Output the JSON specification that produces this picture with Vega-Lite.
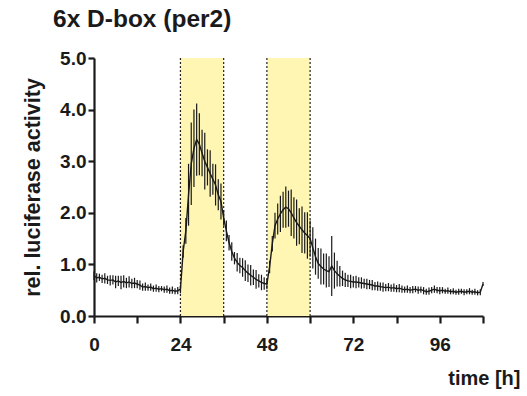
{
  "$schema": "https://vega.github.io/schema/vega-lite/v6.json",
  "width": 389,
  "height": 258,
  "autosize": "none",
  "padding": {"left": 94, "top": 58, "right": 44, "bottom": 80},
  "background": "white",
  "config": {
    "view": {"stroke": null},
    "font": "Liberation Sans"
  },
  "title": {
    "text": "6x D-box (per2)",
    "anchor": "start",
    "frame": "group",
    "fontSize": 24.5,
    "fontWeight": "bold",
    "font": "Liberation Sans",
    "color": "#1a1a1a",
    "dx": -41,
    "offset": 17
  },
  "datasets": {
    "bands": [
      {"start": 24, "end": 36, "lo": 0, "hi": 5},
      {"start": 48, "end": 60, "lo": 0, "hi": 5}
    ],
    "edges": [
      {"t": 24}, {"t": 36}, {"t": 48}, {"t": 60}
    ],
    "series": [
      {"t": 0, "m": 0.78, "e": 0.08},
      {"t": 0.75, "m": 0.74, "e": 0.09},
      {"t": 1.5, "m": 0.75, "e": 0.07},
      {"t": 2.25, "m": 0.72, "e": 0.08},
      {"t": 3, "m": 0.73, "e": 0.1},
      {"t": 3.75, "m": 0.7, "e": 0.08},
      {"t": 4.5, "m": 0.69, "e": 0.1},
      {"t": 5.25, "m": 0.7, "e": 0.09},
      {"t": 6, "m": 0.66, "e": 0.12},
      {"t": 6.75, "m": 0.68, "e": 0.1},
      {"t": 7.5, "m": 0.65, "e": 0.13},
      {"t": 8.25, "m": 0.67, "e": 0.12},
      {"t": 9, "m": 0.64, "e": 0.1},
      {"t": 9.75, "m": 0.66, "e": 0.11},
      {"t": 10.5, "m": 0.63, "e": 0.09},
      {"t": 11.25, "m": 0.64, "e": 0.1},
      {"t": 12, "m": 0.62, "e": 0.08},
      {"t": 12.75, "m": 0.6, "e": 0.09},
      {"t": 13.5, "m": 0.56, "e": 0.07},
      {"t": 14.25, "m": 0.57, "e": 0.08},
      {"t": 15, "m": 0.55, "e": 0.06},
      {"t": 15.75, "m": 0.56, "e": 0.07},
      {"t": 16.5, "m": 0.53, "e": 0.06},
      {"t": 17.25, "m": 0.54, "e": 0.07},
      {"t": 18, "m": 0.52, "e": 0.06},
      {"t": 18.75, "m": 0.53, "e": 0.05},
      {"t": 19.5, "m": 0.51, "e": 0.06},
      {"t": 20.25, "m": 0.52, "e": 0.07},
      {"t": 21, "m": 0.49, "e": 0.06},
      {"t": 21.75, "m": 0.5, "e": 0.07},
      {"t": 22.5, "m": 0.48, "e": 0.06},
      {"t": 23.25, "m": 0.49, "e": 0.07},
      {"t": 24, "m": 0.52, "e": 0.08},
      {"t": 24.75, "m": 1.25, "e": 0.12},
      {"t": 25.5, "m": 1.65, "e": 0.25},
      {"t": 26.25, "m": 2.35, "e": 0.6},
      {"t": 27, "m": 2.95, "e": 0.8},
      {"t": 27.75, "m": 3.25, "e": 0.75},
      {"t": 28.5, "m": 3.42, "e": 0.7},
      {"t": 29.25, "m": 3.33, "e": 0.6},
      {"t": 30, "m": 3.16, "e": 0.45},
      {"t": 30.75, "m": 3.0, "e": 0.55},
      {"t": 31.5, "m": 2.88, "e": 0.35},
      {"t": 32.25, "m": 2.76, "e": 0.45},
      {"t": 33, "m": 2.65, "e": 0.3},
      {"t": 33.75, "m": 2.54, "e": 0.4},
      {"t": 34.5, "m": 2.35, "e": 0.3},
      {"t": 35.25, "m": 2.22, "e": 0.35},
      {"t": 36, "m": 1.9, "e": 0.15},
      {"t": 36.75, "m": 1.65, "e": 0.2},
      {"t": 37.5, "m": 1.42, "e": 0.15},
      {"t": 38.25, "m": 1.25, "e": 0.18},
      {"t": 39, "m": 1.12, "e": 0.12},
      {"t": 39.75, "m": 1.04, "e": 0.18},
      {"t": 40.5, "m": 0.98, "e": 0.15},
      {"t": 41.25, "m": 0.94, "e": 0.18},
      {"t": 42, "m": 0.88, "e": 0.2},
      {"t": 42.75, "m": 0.83, "e": 0.17},
      {"t": 43.5, "m": 0.79, "e": 0.2},
      {"t": 44.25, "m": 0.75, "e": 0.15},
      {"t": 45, "m": 0.71, "e": 0.18},
      {"t": 45.75, "m": 0.68, "e": 0.13},
      {"t": 46.5, "m": 0.65, "e": 0.15},
      {"t": 47.25, "m": 0.63, "e": 0.12},
      {"t": 48, "m": 0.62, "e": 0.1},
      {"t": 48.75, "m": 0.95, "e": 0.12},
      {"t": 49.5, "m": 1.4, "e": 0.15},
      {"t": 50.25, "m": 1.75, "e": 0.25},
      {"t": 51, "m": 1.88, "e": 0.3},
      {"t": 51.75, "m": 1.98, "e": 0.35},
      {"t": 52.5, "m": 2.06, "e": 0.35},
      {"t": 53.25, "m": 2.11, "e": 0.4},
      {"t": 54, "m": 2.08, "e": 0.35},
      {"t": 54.75, "m": 2.0, "e": 0.45},
      {"t": 55.5, "m": 1.9, "e": 0.4},
      {"t": 56.25, "m": 1.81, "e": 0.45},
      {"t": 57, "m": 1.74, "e": 0.35},
      {"t": 57.75, "m": 1.67, "e": 0.45},
      {"t": 58.5, "m": 1.61, "e": 0.4},
      {"t": 59.25, "m": 1.56, "e": 0.45},
      {"t": 60, "m": 1.5, "e": 0.35},
      {"t": 60.75, "m": 1.32, "e": 0.4},
      {"t": 61.5, "m": 1.15, "e": 0.35},
      {"t": 62.25, "m": 1.02, "e": 0.3},
      {"t": 63, "m": 0.96, "e": 0.35},
      {"t": 63.75, "m": 0.91, "e": 0.3},
      {"t": 64.5, "m": 0.88, "e": 0.33},
      {"t": 65.25, "m": 0.86, "e": 0.3},
      {"t": 66, "m": 0.97, "e": 0.58},
      {"t": 66.75, "m": 0.88, "e": 0.35},
      {"t": 67.5, "m": 0.82, "e": 0.25},
      {"t": 68.25, "m": 0.77, "e": 0.2},
      {"t": 69, "m": 0.73, "e": 0.15},
      {"t": 69.75, "m": 0.7, "e": 0.14},
      {"t": 70.5, "m": 0.68, "e": 0.12},
      {"t": 71.25, "m": 0.67, "e": 0.13},
      {"t": 72, "m": 0.66, "e": 0.11},
      {"t": 72.75, "m": 0.66, "e": 0.12},
      {"t": 73.5, "m": 0.65, "e": 0.1},
      {"t": 74.25, "m": 0.64, "e": 0.11},
      {"t": 75, "m": 0.63, "e": 0.09},
      {"t": 75.75, "m": 0.62, "e": 0.1},
      {"t": 76.5, "m": 0.61, "e": 0.09},
      {"t": 77.25, "m": 0.6, "e": 0.1},
      {"t": 78, "m": 0.58, "e": 0.08},
      {"t": 78.75, "m": 0.58, "e": 0.09},
      {"t": 79.5, "m": 0.57, "e": 0.08},
      {"t": 80.25, "m": 0.56, "e": 0.09},
      {"t": 81, "m": 0.55, "e": 0.07},
      {"t": 81.75, "m": 0.56, "e": 0.08},
      {"t": 82.5, "m": 0.54, "e": 0.07},
      {"t": 83.25, "m": 0.55, "e": 0.08},
      {"t": 84, "m": 0.53, "e": 0.07},
      {"t": 84.75, "m": 0.54, "e": 0.08},
      {"t": 85.5, "m": 0.52, "e": 0.07},
      {"t": 86.25, "m": 0.51, "e": 0.06},
      {"t": 87, "m": 0.52, "e": 0.07},
      {"t": 87.75, "m": 0.5, "e": 0.06},
      {"t": 88.5, "m": 0.51, "e": 0.07},
      {"t": 89.25, "m": 0.52, "e": 0.06},
      {"t": 90, "m": 0.5, "e": 0.07},
      {"t": 90.75, "m": 0.51, "e": 0.06},
      {"t": 91.5, "m": 0.49, "e": 0.07},
      {"t": 92.25, "m": 0.47, "e": 0.06},
      {"t": 93, "m": 0.48, "e": 0.07},
      {"t": 93.75, "m": 0.5, "e": 0.06},
      {"t": 94.5, "m": 0.52, "e": 0.07},
      {"t": 95.25, "m": 0.5, "e": 0.06},
      {"t": 96, "m": 0.49, "e": 0.07},
      {"t": 96.75, "m": 0.5, "e": 0.06},
      {"t": 97.5, "m": 0.48, "e": 0.05},
      {"t": 98.25, "m": 0.49, "e": 0.06},
      {"t": 99, "m": 0.47, "e": 0.05},
      {"t": 99.75, "m": 0.48, "e": 0.06},
      {"t": 100.5, "m": 0.46, "e": 0.05},
      {"t": 101.25, "m": 0.47, "e": 0.06},
      {"t": 102, "m": 0.48, "e": 0.05},
      {"t": 102.75, "m": 0.46, "e": 0.06},
      {"t": 103.5, "m": 0.47, "e": 0.05},
      {"t": 104.25, "m": 0.48, "e": 0.06},
      {"t": 105, "m": 0.46, "e": 0.05},
      {"t": 105.75, "m": 0.47, "e": 0.06},
      {"t": 106.5, "m": 0.45, "e": 0.05},
      {"t": 107.25, "m": 0.46, "e": 0.06},
      {"t": 108, "m": 0.62, "e": 0.04}
    ]
  },
  "layer": [
    {
      "data": {"name": "bands"},
      "mark": {"type": "rect", "color": "#fff6b3"},
      "encoding": {
        "x": {"field": "start", "type": "quantitative", "title": "time [h]", "scale": {"domain": [0, 108], "nice": false},
          "axis": {
            "values": [0, 12, 24, 36, 48, 60, 72, 84, 96, 108],
            "labelExpr": "datum.value % 24 == 0 ? datum.label : ''",
            "domainColor": "#1a1a1a", "domainWidth": 2.2,
            "tickColor": "#1a1a1a", "tickWidth": 2.2, "tickSize": 7,
            "labelFont": "Liberation Sans", "labelFontWeight": "bold", "labelFontSize": 19, "labelColor": "#1a1a1a",
            "labelPadding": 12, "labelFlush": false,
            "grid": false,
            "titleFont": "Liberation Sans", "titleFontWeight": "bold", "titleFontSize": 20, "titleColor": "#1a1a1a",
            "titleX": 426, "titleY": 68, "titleAlign": "right", "titleBaseline": "alphabetic", "titleAnchor": null
          }
        },
        "x2": {"field": "end"},
        "y": {"field": "lo", "type": "quantitative", "title": "rel. luciferase activity", "scale": {"domain": [0, 5], "nice": false},
          "axis": {
            "values": [0, 1, 2, 3, 4, 5],
            "format": ".1f",
            "domainColor": "#1a1a1a", "domainWidth": 2.2,
            "tickColor": "#1a1a1a", "tickWidth": 2.2, "tickSize": 6,
            "labelFont": "Liberation Sans", "labelFontWeight": "bold", "labelFontSize": 19, "labelColor": "#1a1a1a",
            "labelPadding": 2,
            "grid": false,
            "titleFont": "Liberation Sans", "titleFontWeight": "bold", "titleFontSize": 21.5, "titleColor": "#1a1a1a",
            "titleX": -55, "titleY": 129, "titleAngle": -90, "titleAlign": "center", "titleBaseline": "alphabetic", "titleAnchor": null
          }
        },
        "y2": {"field": "hi"}
      }
    },
    {
      "data": {"name": "edges"},
      "mark": {"type": "rule", "color": "#222222", "strokeWidth": 1.2, "strokeDash": [2, 2]},
      "encoding": {
        "x": {"field": "t", "type": "quantitative", "title": "time [h]"},
        "y": {"datum": 0, "type": "quantitative", "title": "rel. luciferase activity"},
        "y2": {"datum": 5}
      }
    },
    {
      "data": {"name": "series"},
      "mark": {"type": "errorbar", "color": "#1a1a1a", "ticks": false, "thickness": 1.2},
      "encoding": {
        "x": {"field": "t", "type": "quantitative", "title": "time [h]"},
        "y": {"field": "m", "type": "quantitative", "title": "rel. luciferase activity"},
        "yError": {"field": "e"}
      }
    },
    {
      "data": {"name": "series"},
      "mark": {"type": "line", "color": "#1a1a1a", "strokeWidth": 1.4},
      "encoding": {
        "x": {"field": "t", "type": "quantitative", "title": "time [h]"},
        "y": {"field": "m", "type": "quantitative", "title": "rel. luciferase activity"}
      }
    }
  ]
}
